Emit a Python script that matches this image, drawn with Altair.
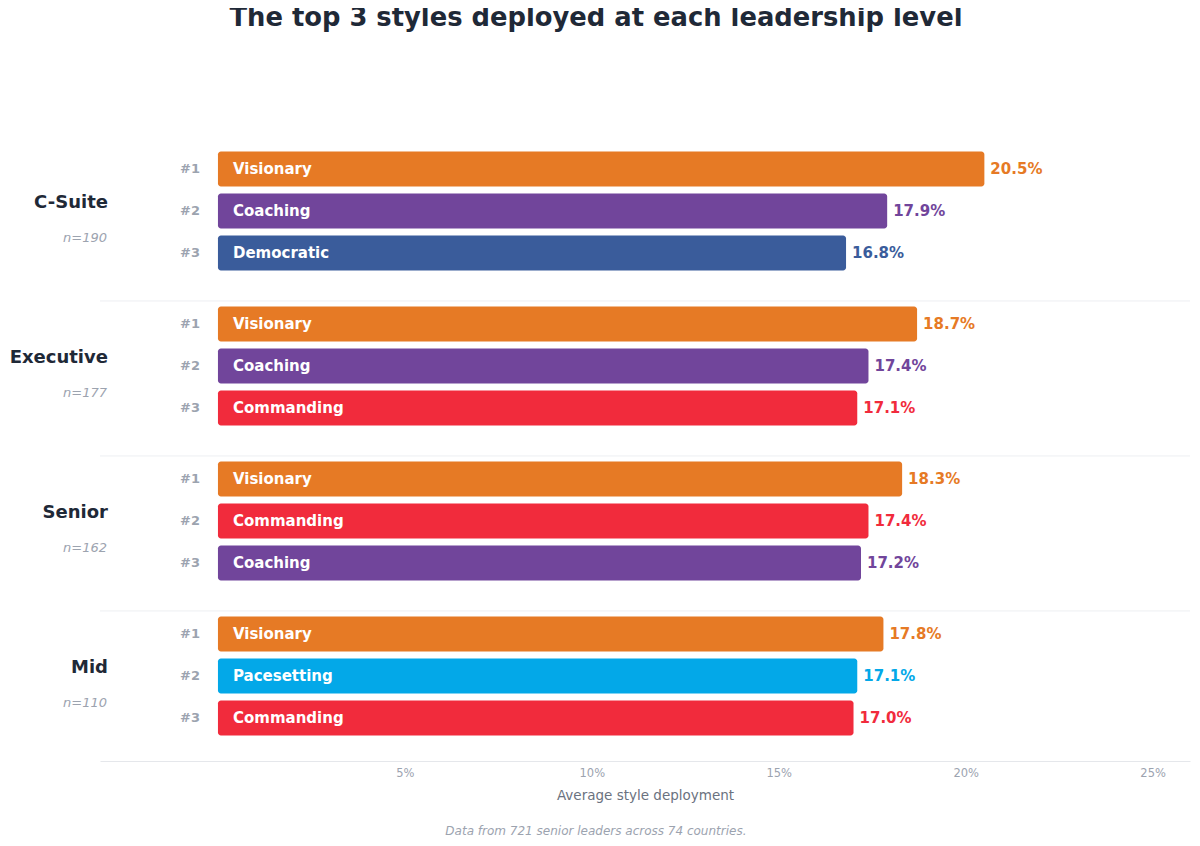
import altair as alt
import pandas as pd

# ---- data ----
levels = ["C-Suite", "Executive", "Senior", "Mid"]
sample_sizes = [190, 177, 162, 110]
top_styles = [
    ["Visionary", "Coaching", "Democratic"],
    ["Visionary", "Coaching", "Commanding"],
    ["Visionary", "Commanding", "Coaching"],
    ["Visionary", "Pacesetting", "Commanding"],
]
top_values = [
    [20.5, 17.9, 16.8],
    [18.7, 17.4, 17.1],
    [18.3, 17.4, 17.2],
    [17.8, 17.1, 17.0],
]
style_names = ["Visionary", "Coaching", "Democratic", "Commanding", "Pacesetting"]
style_colors = ["#E67A25", "#71459B", "#3A5C9B", "#F12B3C", "#03A8E8"]
tick_values = [5, 10, 15, 20, 25]

TITLE = "The top 3 styles deployed at each leadership level"
X_TITLE = "Average style deployment"
FOOTER = "Data from 721 senior leaders across 74 countries."

# ---- layout constants (row units) ----
GROUP_STEP = 3.69
FIRST_OFFSET = 0.548
Y_MAX = 14.643
X_MIN, X_MAX = -3.155, 26
FOOTER_X, FOOTER_Y = 10.11, 16.31

rows = []
for g, lvl in enumerate(levels):
    for r in range(3):
        rows.append({
            "g": g,
            "level": lvl,
            "n": f"n={sample_sizes[g]}",
            "rank": f"#{r + 1}",
            "r": r,
            "style": top_styles[g][r],
            "value": top_values[g][r],
            "label": f"{top_values[g][r]:.1f}%",
            "pos": g * GROUP_STEP + FIRST_OFFSET + r,
        })
df = pd.DataFrame(rows)

FONT = "DejaVu Sans"
x_scale = alt.Scale(domain=[X_MIN, X_MAX], nice=False, zero=False, padding=0)
y_scale = alt.Scale(domain=[0, Y_MAX], reverse=True, nice=False, zero=False, padding=0)
color_scale = alt.Scale(domain=style_names, range=style_colors)

base = alt.Chart(df)
y_enc = alt.Y("pos:Q", scale=y_scale, axis=None)

bars = base.mark_bar(size=35, cornerRadius=3, orient="horizontal").encode(
    x=alt.X("value:Q", scale=x_scale,
            axis=alt.Axis(values=tick_values, labelExpr="datum.value + '%'",
                          title=X_TITLE, grid=False, ticks=False,
                          domainColor="#E5E7EB", labelColor="#9CA3AF",
                          labelFont=FONT, labelFontSize=11.5, labelPadding=6,
                          titleFont=FONT, titleFontSize=13.5, titleColor="#6B7280",
                          titleFontWeight="normal", titlePadding=10)),
    x2=alt.datum(0),
    y=y_enc,
    color=alt.Color("style:N", scale=color_scale, legend=None),
)

style_text = base.mark_text(align="left", baseline="middle", dx=15, font=FONT,
                            fontSize=15, fontWeight="bold", color="white").encode(
    x=alt.datum(0), y=y_enc, text="style:N")

value_text = base.mark_text(align="left", baseline="middle", dx=6, font=FONT,
                            fontSize=15, fontWeight="bold").encode(
    x=alt.X("value:Q", scale=x_scale), y=y_enc, text="label:N",
    color=alt.Color("style:N", scale=color_scale, legend=None))

rank_text = base.mark_text(align="center", baseline="middle", dx=-28, font=FONT,
                           fontSize=13, fontWeight="bold", color="#9CA3AF").encode(
    x=alt.datum(0), y=y_enc, text="rank:N")

mid = base.transform_filter("datum.r == 1")
level_text = mid.mark_text(align="right", baseline="middle", dx=-110, dy=-8, font=FONT,
                           fontSize=18, fontWeight="bold", color="#1F2937").encode(
    x=alt.datum(0), y=y_enc, text="level:N")
n_text = mid.mark_text(align="right", baseline="middle", dx=-111, dy=27, font=FONT,
                       fontSize=13, fontStyle="italic", color="#9CA3AF").encode(
    x=alt.datum(0), y=y_enc, text="n:N")

# separators between groups: at the start of each group after the first
seps = base.transform_filter("datum.r == 0 && datum.g > 0").transform_calculate(
    sep=f"datum.g * {GROUP_STEP}"
).mark_rule(color="#EDEFF2", strokeWidth=1).encode(
    y=alt.Y("sep:Q", scale=y_scale, axis=None))

footer = base.transform_filter("datum.r == 0 && datum.g == 0").mark_text(
    text=FOOTER, font=FONT, fontSize=12, fontStyle="italic", color="#9CA3AF",
    align="center", baseline="middle").encode(
    x=alt.datum(FOOTER_X), y=alt.YDatum(FOOTER_Y, axis=None))

chart = alt.layer(bars, seps, style_text, value_text, rank_text, level_text, n_text, footer).properties(
    width=1090, height=615,
    title=alt.TitleParams(TITLE, font=FONT, fontSize=25.8, fontWeight="bold",
                          color="#1F2937", anchor="middle", dx=-49, offset=114),
    autosize=alt.AutoSizeParams(type="none"),
    padding={"left": 92, "top": 138, "right": 2, "bottom": 77},
).configure_view(stroke=None)

chart.save("out.html", embed_options={"renderer": "svg", "actions": False})
